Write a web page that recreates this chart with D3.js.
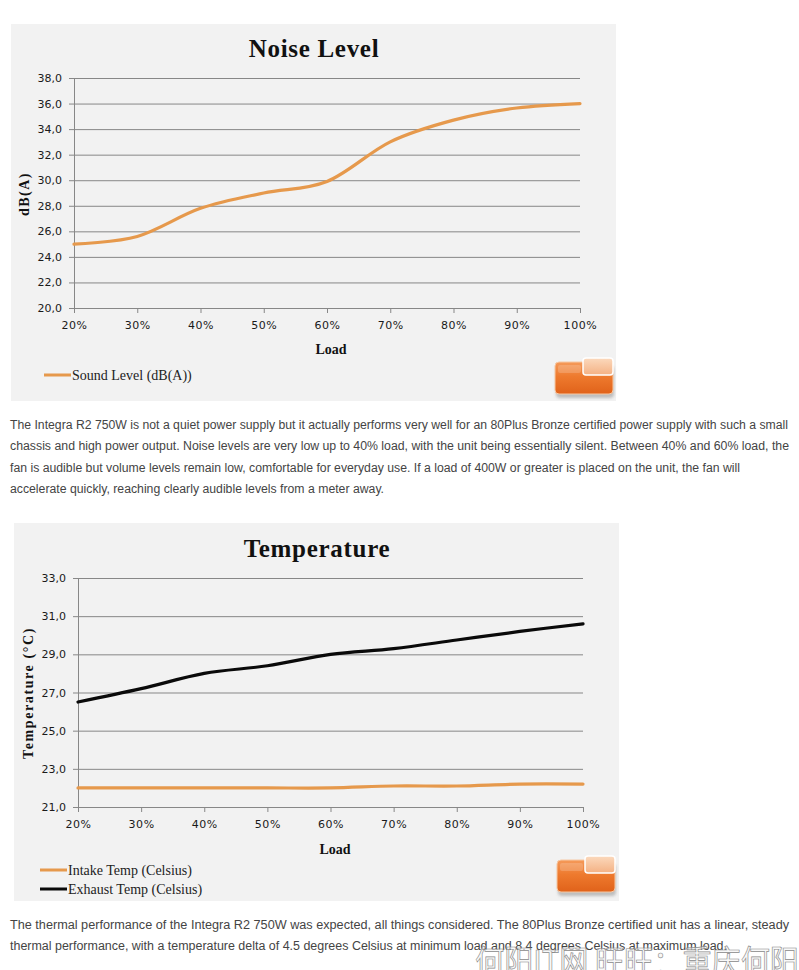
<!DOCTYPE html>
<html>
<head>
<meta charset="utf-8">
<script src="https://cdn.jsdelivr.net/npm/d3@7"></script>
<style>
  html, body { margin: 0; padding: 0; background: #ffffff; }
  svg { display: block; }
</style>
</head>
<body>
<svg id="page" width="799" height="970"></svg>
<script>
// ---------- data ----------
const loadLabels = ["20%", "30%", "40%", "50%", "60%", "70%", "80%", "90%", "100%"];

const noiseTitle = "Noise Level";
const noiseSeriesName = "Sound Level (dB(A))";
const noiseValues = [25.0, 25.6, 27.8, 29.0, 29.9, 33.0, 34.7, 35.65, 36.0];
const noiseTicks = [20, 22, 24, 26, 28, 30, 32, 34, 36, 38];

const tempTitle = "Temperature";
const intakeName = "Intake Temp (Celsius)";
const exhaustName = "Exhaust Temp (Celsius)";
const intakeValues = [22.0, 22.0, 22.0, 22.0, 22.0, 22.1, 22.1, 22.2, 22.2];
const exhaustValues = [26.5, 27.2, 28.0, 28.4, 29.0, 29.3, 29.75, 30.2, 30.6];
const tempTicks = [21, 23, 25, 27, 29, 31, 33];

const paragraph1 = [
  "The Integra R2 750W is not a quiet power supply but it actually performs very well for an 80Plus Bronze certified power supply with such a small",
  "chassis and high power output. Noise levels are very low up to 40% load, with the unit being essentially silent. Between 40% and 60% load, the",
  "fan is audible but volume levels remain low, comfortable for everyday use. If a load of 400W or greater is placed on the unit, the fan will",
  "accelerate quickly, reaching clearly audible levels from a meter away."
];
const paragraph2 = [
  "The thermal performance of the Integra R2 750W was expected, all things considered. The 80Plus Bronze certified unit has a linear, steady",
  "thermal performance, with a temperature delta of 4.5 degrees Celsius at minimum load and 8.4 degrees Celsius at maximum load."
];
const watermark = "何阳IT网 旺旺：重庆何阳";

// ---------- helpers ----------
const svg = d3.select("#page");
const ORANGE = "#E6994C";
const GRID = "#878787";
const fmt = v => d3.format(".1f")(v).replace(".", ",");

const defs = svg.append("defs");
const lg = defs.append("linearGradient").attr("id", "logoGrad").attr("x1", 0).attr("y1", 0).attr("x2", 0).attr("y2", 1);
lg.append("stop").attr("offset", "0%").attr("stop-color", "#F59A5A");
lg.append("stop").attr("offset", "45%").attr("stop-color", "#EE7A2E");
lg.append("stop").attr("offset", "100%").attr("stop-color", "#E0621A");
const lg2 = defs.append("linearGradient").attr("id", "logoGrad2").attr("x1", 0).attr("y1", 0).attr("x2", 0).attr("y2", 1);
lg2.append("stop").attr("offset", "0%").attr("stop-color", "#FBD9BD");
lg2.append("stop").attr("offset", "100%").attr("stop-color", "#F4B183");
const blur = defs.append("filter").attr("id", "shadow").attr("x", "-20%").attr("y", "-20%").attr("width", "140%").attr("height", "160%");
blur.append("feGaussianBlur").attr("stdDeviation", 1.5);

function drawLogo(x, y) {
  const g = svg.append("g").attr("transform", `translate(${x},${y})`);
  g.append("rect").attr("x", 1).attr("y", 8).attr("width", 58).attr("height", 32).attr("rx", 4)
    .attr("fill", "#9a9a9a").attr("opacity", 0.6).attr("filter", "url(#shadow)");
  g.append("rect").attr("x", 0).attr("y", 4).attr("width", 58).attr("height", 32).attr("rx", 4)
    .attr("fill", "url(#logoGrad)").attr("stroke", "#F7C9A4").attr("stroke-width", 1);
  g.append("rect").attr("x", 28).attr("y", 0).attr("width", 30).attr("height", 17).attr("rx", 3)
    .attr("fill", "url(#logoGrad2)").attr("stroke", "#ffffff").attr("stroke-width", 1.5);
  g.append("rect").attr("x", 3).attr("y", 7).attr("width", 23).attr("height", 8).attr("rx", 2)
    .attr("fill", "#ffffff").attr("opacity", 0.18);
}

function drawChart(cfg) {
  const g = svg.append("g");
  // panel
  g.append("rect").attr("x", cfg.panel[0]).attr("y", cfg.panel[1])
    .attr("width", cfg.panel[2]).attr("height", cfg.panel[3]).attr("fill", "#F2F2F2");

  const x = d3.scalePoint().domain(loadLabels).range([cfg.plot[0], cfg.plot[1]]);
  const y = d3.scaleLinear().domain([cfg.ticks[0], cfg.ticks[cfg.ticks.length - 1]])
    .range([cfg.plot[3], cfg.plot[2]]);
  const w = cfg.plot[1] - cfg.plot[0];

  // grid
  const grid = g.append("g").attr("transform", `translate(${cfg.plot[0]},0)`)
    .call(d3.axisLeft(y).tickValues(cfg.ticks).tickSize(-w).tickFormat(""));
  grid.select(".domain").remove();
  grid.selectAll("line").attr("stroke", GRID).attr("stroke-width", 1);

  // y axis
  const ya = g.append("g").attr("transform", `translate(${cfg.plot[0]},0)`)
    .call(d3.axisLeft(y).tickValues(cfg.ticks).tickSize(5).tickSizeOuter(0).tickPadding(7).tickFormat(fmt));
  ya.select(".domain").attr("stroke", GRID);
  ya.selectAll("line").attr("stroke", GRID);
  ya.selectAll("text").attr("font-family", "DejaVu Sans, sans-serif").attr("font-size", 11)
    .attr("fill", "#1a1a1a");

  // x axis
  const xa = g.append("g").attr("transform", `translate(0,${cfg.plot[3]})`)
    .call(d3.axisBottom(x).tickSize(5).tickSizeOuter(0).tickPadding(8));
  xa.select(".domain").attr("stroke", GRID);
  xa.selectAll("line").attr("stroke", GRID);
  xa.selectAll("text").attr("font-family", "DejaVu Sans, sans-serif").attr("font-size", 11)
    .attr("fill", "#1a1a1a").attr("letter-spacing", 0.6);

  // series
  const line = d3.line().x((d, i) => x(loadLabels[i])).y(d => y(d)).curve(d3.curveCardinal.tension(0));
  cfg.series.forEach(s => {
    g.append("path").datum(s.values).attr("d", line).attr("fill", "none")
      .attr("stroke", s.color).attr("stroke-width", 3.2).attr("stroke-linecap", "round");
  });

  // title
  g.append("text").attr("x", cfg.titlePos[0]).attr("y", cfg.titlePos[1]).attr("text-anchor", "middle")
    .attr("font-family", "Liberation Serif, serif").attr("font-weight", "bold").attr("font-size", 25)
    .attr("letter-spacing", 0.7).attr("fill", "#111").text(cfg.title);

  // x title
  g.append("text").attr("x", cfg.xTitlePos[0]).attr("y", cfg.xTitlePos[1]).attr("text-anchor", "middle")
    .attr("font-family", "Liberation Serif, serif").attr("font-weight", "bold").attr("font-size", 14)
    .attr("fill", "#111").text("Load");

  // y title
  g.append("text").attr("transform", `translate(${cfg.yTitlePos[0]},${cfg.yTitlePos[1]}) rotate(-90)`)
    .attr("text-anchor", "middle").attr("font-family", "Liberation Serif, serif").attr("font-weight", "bold")
    .attr("font-size", 14).attr("letter-spacing", cfg.yTitleSpacing).attr("fill", "#111").text(cfg.yTitle);

  // legend
  cfg.series.forEach((s, i) => {
    const ly = cfg.legendPos[1] + i * 19;
    g.append("line").attr("x1", cfg.legendPos[0]).attr("x2", cfg.legendPos[0] + 27)
      .attr("y1", ly).attr("y2", ly).attr("stroke", s.color).attr("stroke-width", 3);
    g.append("text").attr("x", cfg.legendPos[0] + 28).attr("y", ly + 5)
      .attr("font-family", "Liberation Serif, serif").attr("font-size", 14).attr("fill", "#222")
      .text(s.name);
  });

  drawLogo(cfg.logoPos[0], cfg.logoPos[1]);
}

function drawParagraph(lines, x, y0, ends) {
  lines.forEach((t, i) => {
    svg.append("text").attr("x", x).attr("y", y0 + i * 21.3)
      .attr("font-family", "Liberation Sans, Arial, sans-serif").attr("font-size", 12)
      .attr("fill", "#444").attr("textLength", ends[i] - x).attr("lengthAdjust", "spacingAndGlyphs")
      .text(t);
  });
}

// ---------- charts ----------
drawChart({
  panel: [11, 24, 605, 377],
  plot: [74, 580, 78, 308],
  ticks: noiseTicks,
  title: noiseTitle, titlePos: [314, 57],
  xTitlePos: [331, 354],
  yTitle: "dB(A)", yTitlePos: [29, 194], yTitleSpacing: 1.5,
  legendPos: [44, 375],
  series: [{ name: noiseSeriesName, values: noiseValues, color: ORANGE }],
  logoPos: [555, 358]
});

drawParagraph(paragraph1, 10, 429, [788, 789, 740, 384]);

drawChart({
  panel: [14, 523, 605, 378],
  plot: [78, 583, 578, 807],
  ticks: tempTicks,
  title: tempTitle, titlePos: [317, 557],
  xTitlePos: [335, 854],
  yTitle: "Temperature (°C)", yTitlePos: [33, 693], yTitleSpacing: 1.6,
  legendPos: [40, 870],
  series: [
    { name: intakeName, values: intakeValues, color: ORANGE },
    { name: exhaustName, values: exhaustValues, color: "#0a0a0a" }
  ],
  logoPos: [557, 856]
});

drawParagraph(paragraph2, 10, 929, [789, 727]);

// watermark
svg.append("text").attr("x", 475).attr("y", 974)
  .attr("font-family", "Noto Sans CJK SC, sans-serif").attr("font-size", 33)
  .attr("textLength", 324).attr("lengthAdjust", "spacingAndGlyphs")
  .attr("fill", "#f4f4f4").attr("fill-opacity", 0.6).attr("stroke", "#8a8a8a").attr("stroke-width", 0.7)
  .text(watermark);
</script>
</body>
</html>
